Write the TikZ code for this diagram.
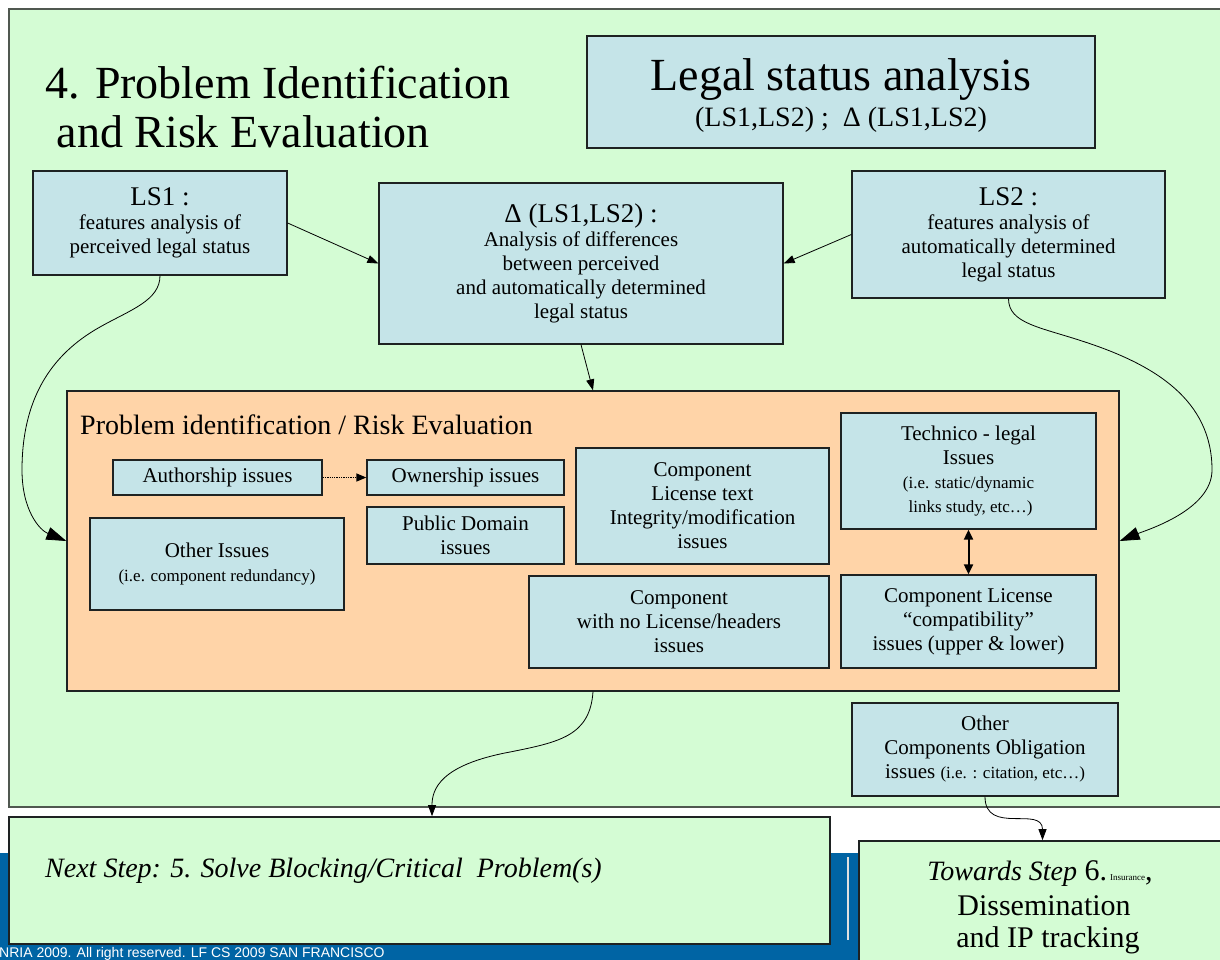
\documentclass[tikz,border=0pt]{standalone}
\usepackage{fontspec}
\setmainfont{Liberation Serif}
\setsansfont{Liberation Sans}
\usetikzlibrary{arrows.meta,calc}

\definecolor{panelgreen}{RGB}{212,252,212}
\definecolor{boxblue}{RGB}{197,228,232}
\definecolor{riskorange}{RGB}{255,212,168}
\definecolor{bandblue}{RGB}{0,100,164}
\definecolor{paneledge}{RGB}{80,88,80}
\definecolor{boxedge}{RGB}{30,34,34}

\newcommand{\fsz}[2]{\fontsize{#1}{#2}\selectfont}

\begin{document}
\begin{tikzpicture}[x=1pt,y=-1pt,
  panel/.style={draw=paneledge, fill=panelgreen, line width=2pt},
  box/.style={draw=boxedge, fill=boxblue, line width=1.3pt, inner sep=0pt,
              align=center, font=\fsz{21}{24}},
  riskbox/.style={draw=boxedge, fill=riskorange, line width=1.3pt, inner sep=0pt},
  link/.style={-{Triangle[length=11pt,width=8pt]}, line width=0.8pt},
  curvelink/.style={-{Triangle[length=20pt,width=13pt]}, line width=0.8pt},
  label/.style={inner sep=0pt}
]
\useasboundingbox (0,0) rectangle (1220,960);
\clip (0,0) rectangle (1220,960);

% footer band with the separator line
\fill[bandblue] (0,853) rectangle (1220,960);
\draw[white!88!black, line width=1.5pt] (848,857) -- (848,940);
\node[label, anchor=base west, text=white, font=\sffamily\fsz{14}{14}]
  (footer) at (-1,957) {NRIA 2009. All right reserved. LF CS 2009 SAN FRANCISCO};

% main step panel
\node[panel, minimum width=1230pt, minimum height=798pt, inner sep=0pt]
  (mainpanel) at (624,408) {};

\node[label, anchor=base west, font=\fsz{46}{50}] (title1) at (45,99)
  {4. Problem Identification};
\node[label, anchor=base west, font=\fsz{46}{50}] (title2) at (45,148)
  {\ and Risk Evaluation};

% legal status summary
\node[box, minimum width=508pt, minimum height=112pt] (legal) at (841,92) {};
\node[label, anchor=base, font=\fsz{46}{48}] (legal1) at (841,91)
  {Legal status analysis};
\node[label, anchor=base, font=\fsz{28}{30}] (legal2) at (841,127)
  {(LS1,LS2) ;\ \ Δ (LS1,LS2)};

\node[box, minimum width=254pt, minimum height=104pt] (ls1) at (160,223)
  {{\fsz{27}{30}LS1 :}\\features analysis of\\perceived legal status};

\node[box, minimum width=404pt, minimum height=161pt] (delta) at (581,263.5)
  {{\fsz{27}{30}Δ (LS1,LS2) :}\\Analysis of differences\\between perceived\\
   and automatically determined\\legal status};

\node[box, minimum width=313pt, minimum height=127pt] (ls2) at (1008.5,234.5)
  {{\fsz{27}{30}LS2 :}\\features analysis of\\automatically determined\\legal status};

% problem identification area
\node[riskbox, minimum width=1052pt, minimum height=300pt] (risk) at (593,541) {};
\node[label, anchor=base west, font=\fsz{28}{30}] (risktitle) at (80,434)
  {Problem identification / Risk Evaluation};

\node[box, minimum width=209pt, minimum height=35pt] (author) at (217.5,477.5)
  {Authorship issues};
\node[box, minimum width=197pt, minimum height=35pt] (owner) at (465.5,477.5)
  {Ownership issues};
\node[box, minimum width=197pt, minimum height=57pt] (pubdom) at (465.5,535.5)
  {Public Domain\\issues};
\node[box, minimum width=254pt, minimum height=92pt] (other) at (217,564)
  {Other Issues\\{\fsz{17}{20}(i.e. component redundancy)}};
\node[box, minimum width=253pt, minimum height=116pt] (licensetext) at (702.5,506)
  {Component\\License text\\Integrity/modification\\issues};
\node[box, minimum width=300pt, minimum height=92pt] (nolicense) at (679,622)
  {Component\\with no License/headers\\issues};
\node[box, minimum width=255pt, minimum height=116pt] (technico) at (968.5,471)
  {Technico - legal\\Issues\\{\fsz{17}{20}(i.e. static/dynamic}\\
   {\fsz{17}{20}\ links study, etc…)}};
\node[box, minimum width=255pt, minimum height=93pt] (compat) at (968.5,621.5)
  {Component License\\“compatibility”\\issues (upper \& lower)};

\node[box, minimum width=266pt, minimum height=93pt] (oblig) at (985,749.5)
  {Other\\Components Obligation\\issues {\fsz{17}{20}(i.e. : citation, etc…)}};

% next-step panels
\node[panel, line width=1.6pt, draw=boxedge, minimum width=821pt, minimum height=127pt,
      inner sep=0pt] (next) at (419.5,880.5) {};
\node[label, anchor=base west, font=\itshape\fsz{28}{30}] (nexttext) at (45,877)
  {Next Step: 5. Solve Blocking/Critical\ \ Problem(s)};

\node[panel, line width=1.6pt, draw=boxedge, minimum width=367pt, minimum height=160pt,
      inner sep=0pt] (towards) at (1042.5,921) {};
\node[label, anchor=base, font=\fsz{30}{33}] (towards1) at (1040,880)
  {{\itshape\fsz{28}{30}Towards Step} 6.{\fsz{9}{10} Insurance},};
\node[label, anchor=base, font=\fsz{30}{33}] (towards2) at (1044,915)
  {Dissemination};
\node[label, anchor=base, font=\fsz{30}{33}] (towards3) at (1048,947)
  {and IP tracking};

% connectors
\draw[link] (ls1.east) -- (delta.west);
\draw[link] (ls2.west) -- (delta.east);
\draw[link] (delta.south) -- (risk.north);
\draw[-{Triangle[length=10pt,width=8pt]}, line width=1.3pt, densely dotted]
  (author.east) -- (owner.west);
\draw[{Triangle[length=10pt,width=9pt]}-{Triangle[length=10pt,width=9pt]}, line width=2pt]
  (technico.south) -- (compat.north);

\draw[curvelink] (ls1.south) .. controls +(0,25) and +(30,-17) .. (100,327)
  .. controls +(-50,28) and +(0,-70) .. (22,470)
  .. controls +(0,40) and +(-27,-11) .. (risk.west);
\draw[curvelink] (ls2.south) .. controls +(0,25) and +(-45,-15) .. (1085,342)
  .. controls +(70,23) and +(0,-70) .. (1212,470)
  .. controls +(0,40) and +(27,-11) .. (risk.east);
\draw[link] (risk.south) .. controls +(-3,44) and +(50,-10) .. (510,752)
  .. controls +(-70,13) and +(0,-27) .. ($(next.north)+(12.5,0)$);
\draw[link] (oblig.south) .. controls +(0,39) and +(0,-35) .. (towards.north);
\end{tikzpicture}
\end{document}
